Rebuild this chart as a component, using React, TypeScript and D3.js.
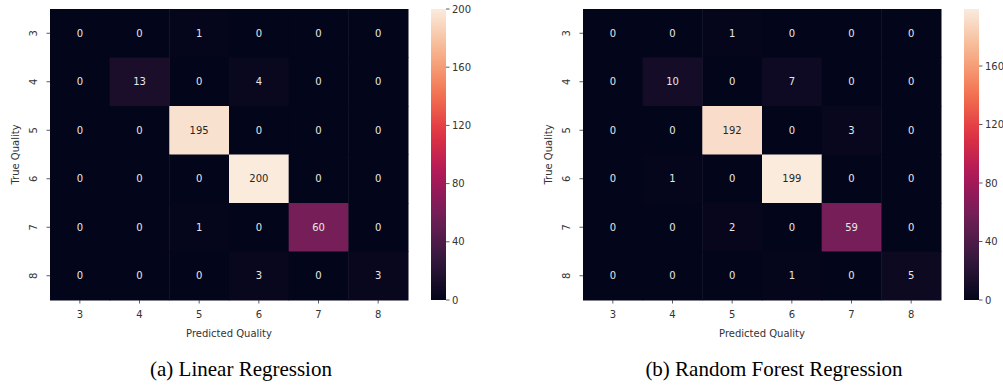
import React from 'react';
import * as d3 from 'd3';

// quality classes on both axes
const qualities = ['3', '4', '5', '6', '7', '8'];

// confusion matrices (rows = true quality, cols = predicted)
const linearMatrix = [
  [0, 0, 1, 0, 0, 0],
  [0, 13, 0, 4, 0, 0],
  [0, 0, 195, 0, 0, 0],
  [0, 0, 0, 200, 0, 0],
  [0, 0, 1, 0, 60, 0],
  [0, 0, 0, 3, 0, 3],
];

const forestMatrix = [
  [0, 0, 1, 0, 0, 0],
  [0, 10, 0, 7, 0, 0],
  [0, 0, 192, 0, 3, 0],
  [0, 1, 0, 199, 0, 0],
  [0, 0, 2, 0, 59, 0],
  [0, 0, 0, 1, 0, 5],
];

const colorbarTicks = [0, 40, 80, 120, 160, 200];
const captions = ['(a) Linear Regression', '(b) Random Forest Regression'];

// seaborn "rocket" colormap, sampled
const rocketStops = ['#03051a', '#35193e', '#701f57', '#ad1759', '#e13342', '#f37651', '#f6b48f', '#faebdd'];

const tickFont = "'DejaVu Sans', sans-serif";

const Heatmap = ({ matrix, x0, caption, id }) => {
  const top = 9;
  const bottom = 300;
  const width = 358;

  const maxVal = d3.max(matrix.flat());
  const rocket = d3.scaleLinear()
    .domain(d3.range(rocketStops.length).map(i => i / (rocketStops.length - 1)))
    .range(rocketStops)
    .interpolate(d3.interpolateRgb);
  const color = v => rocket(v / maxVal);

  const x = d3.scaleBand().domain(qualities).range([x0, x0 + width]);
  const y = d3.scaleBand().domain(qualities).range([top, bottom]);

  // colorbar
  const cbX = x0 + width + 23;
  const cbW = 15;
  const cbScale = d3.scaleLinear().domain([0, maxVal]).range([bottom, top]);
  const gradStops = d3.range(0, 1.0001, 0.05);

  return (
    <g>
      <defs>
        <linearGradient id={id} x1="0" y1="1" x2="0" y2="0">
          {gradStops.map(t => (
            <stop key={t} offset={t} stopColor={rocket(t)} />
          ))}
        </linearGradient>
      </defs>

      {matrix.map((row, i) =>
        row.map((v, j) => {
          const c = color(v);
          const light = d3.lab(c).l > 60;
          return (
            <g key={`${i}-${j}`}>
              <rect
                x={x(qualities[j])}
                y={y(qualities[i])}
                width={x.bandwidth() + 0.5}
                height={y.bandwidth() + 0.5}
                fill={c}
              />
              <text
                x={x(qualities[j]) + x.bandwidth() / 2}
                y={y(qualities[i]) + y.bandwidth() / 2}
                dy="0.35em"
                textAnchor="middle"
                fontFamily={tickFont}
                fontSize={10}
                fill={light ? '#262626' : '#e8e8e8'}
              >
                {v}
              </text>
            </g>
          );
        })
      )}

      {/* x axis */}
      {qualities.map(q => (
        <g key={'x' + q} transform={`translate(${x(q) + x.bandwidth() / 2},${bottom})`}>
          <line y2={3.5} stroke="#333" strokeWidth={0.8} />
          <text y={18} textAnchor="middle" fontFamily={tickFont} fontSize={10} fill="#333">{q}</text>
        </g>
      ))}
      <text x={x0 + width / 2} y={337} textAnchor="middle" fontFamily={tickFont} fontSize={10} fill="#333">
        Predicted Quality
      </text>

      {/* y axis */}
      {qualities.map(q => (
        <g key={'y' + q} transform={`translate(${x0},${y(q) + y.bandwidth() / 2})`}>
          <line x2={-3.5} stroke="#333" strokeWidth={0.8} />
          <text
            transform="translate(-13,0) rotate(-90)"
            textAnchor="middle"
            fontFamily={tickFont}
            fontSize={10}
            fill="#333"
          >
            {q}
          </text>
        </g>
      ))}
      <text
        transform={`translate(${x0 - 31},${(top + bottom) / 2}) rotate(-90)`}
        textAnchor="middle"
        fontFamily={tickFont}
        fontSize={10}
        fill="#333"
      >
        True Quality
      </text>

      {/* colorbar */}
      <rect x={cbX} y={top} width={cbW} height={bottom - top} fill={`url(#${id})`} />
      {colorbarTicks.filter(t => t <= maxVal).map(t => (
        <g key={'c' + t} transform={`translate(${cbX + cbW},${cbScale(t)})`}>
          <line x2={3.5} stroke="#333" strokeWidth={0.8} />
          <text x={6} dy="0.35em" fontFamily={tickFont} fontSize={10} fill="#333">{t}</text>
        </g>
      ))}

      <text
        x={x0 + 191}
        y={376}
        textAnchor="middle"
        fontFamily="'Liberation Serif', 'Times New Roman', serif"
        fontSize={21}
        fill="#000"
      >
        {caption}
      </text>
    </g>
  );
};

export default function App() {
  return (
    <div style={{ position: 'fixed', left: 0, top: 0 }}>
      <svg width={1003} height={387} style={{ display: 'block', background: '#fff' }}>
        <Heatmap matrix={linearMatrix} x0={50} caption={captions[0]} id="cb-a" />
        <Heatmap matrix={forestMatrix} x0={583} caption={captions[1]} id="cb-b" />
      </svg>
    </div>
  );
}
